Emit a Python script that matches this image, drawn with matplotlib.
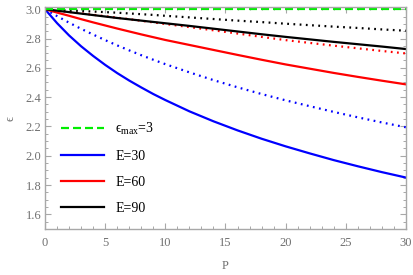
import matplotlib
matplotlib.use("Agg")
import matplotlib.pyplot as plt
from matplotlib.ticker import MultipleLocator

plt.rcParams['font.family'] = ['Liberation Serif', 'DejaVu Serif']
plt.rcParams['mathtext.fontset'] = 'custom'
plt.rcParams['mathtext.rm'] = 'Liberation Serif'
plt.rcParams['mathtext.it'] = 'Liberation Serif:italic'

# data
P = [0, 1, 2, 3, 4, 5, 6, 7, 8, 9, 10, 12, 14, 16, 18, 20, 22, 24, 26, 28, 30]
eps_max = 3.0
blue_solid = [3.000, 2.905, 2.821, 2.747, 2.681, 2.620, 2.564, 2.513, 2.466, 2.421,
              2.380, 2.303, 2.235, 2.173, 2.116, 2.064, 2.016, 1.970, 1.928, 1.888, 1.851]
blue_dotted = [3.000, 2.953, 2.908, 2.866, 2.827, 2.789, 2.753, 2.719, 2.686, 2.655,
               2.625, 2.569, 2.516, 2.467, 2.421, 2.378, 2.338, 2.299, 2.262, 2.227, 2.194]
red_solid = [3.000, 2.977, 2.955, 2.932, 2.910, 2.889, 2.868, 2.848, 2.828, 2.809,
             2.790, 2.756, 2.722, 2.688, 2.655, 2.623, 2.594, 2.565, 2.538, 2.512, 2.487]
red_dotted = [3.000, 2.991, 2.981, 2.972, 2.962, 2.952, 2.942, 2.932, 2.921, 2.910,
              2.899, 2.878, 2.856, 2.834, 2.811, 2.789, 2.770, 2.751, 2.733, 2.715, 2.698]
black_solid = [3.000, 2.990, 2.980, 2.970, 2.960, 2.950, 2.940, 2.931, 2.922, 2.913,
               2.904, 2.886, 2.867, 2.848, 2.829, 2.811, 2.794, 2.777, 2.761, 2.745, 2.728]
black_dotted = [3.000, 2.996, 2.992, 2.988, 2.984, 2.980, 2.976, 2.971, 2.966, 2.961,
                2.955, 2.944, 2.933, 2.922, 2.912, 2.901, 2.891, 2.881, 2.872, 2.862, 2.853]
labels = ['ϵ$_{\\mathrm{max}}$=3', 'E=30', 'E=60', 'E=90']

fig = plt.figure(figsize=(4.14, 2.75), dpi=100)
ax = fig.add_axes([45/414, 46/275, 361/414, 222/275])

lw = 1.6
dot = (0, (0.8, 2.0))
l_b, = ax.plot(P, blue_solid, color='#0000ff', lw=lw, label=labels[1])
ax.plot(P, blue_dotted, color='#0000ff', lw=lw, ls=dot)
l_r, = ax.plot(P, red_solid, color='#ff0000', lw=lw, label=labels[2])
ax.plot(P, red_dotted, color='#ff0000', lw=lw, ls=dot)
l_k, = ax.plot(P, black_solid, color='black', lw=lw, label=labels[3])
ax.plot(P, black_dotted, color='black', lw=lw, ls=dot)
l_g, = ax.plot(P, [eps_max] * len(P), color='#00ee00', lw=lw, ls=(0, (3.6, 1.8)),
               label=labels[0])

ax.set_xlim(0, 30)
ax.set_ylim(1.5, 3.015)
ax.xaxis.set_major_locator(MultipleLocator(5))
ax.xaxis.set_minor_locator(MultipleLocator(1))
ax.yaxis.set_major_locator(MultipleLocator(0.2))
ax.yaxis.set_minor_locator(MultipleLocator(0.05))
ax.yaxis.set_major_formatter(matplotlib.ticker.FormatStrFormatter('%.1f'))

frame = '#a8a8a8'
txt = '#707070'
for s in ax.spines.values():
    s.set_color(frame)
    s.set_linewidth(1.0)
ax.tick_params(which='both', direction='in', top=True, right=True, color=frame,
               labelcolor=txt, labelsize=9)
ax.tick_params(which='major', length=4, width=0.8)
ax.tick_params(which='minor', length=2.3, width=0.7)
ax.tick_params(axis='x', pad=6)
ax.tick_params(axis='y', pad=2.5)

ax.set_xlabel('P', color=txt, fontsize=9, labelpad=8)
ax.set_ylabel('ϵ', color=txt, fontsize=9, labelpad=7)

leg = ax.legend(handles=[l_g, l_b, l_r, l_k], loc='center left',
                bbox_to_anchor=(0.044, 0.275), frameon=False, fontsize=10,
                handlelength=3.1, handletextpad=0.8, labelspacing=0.92,
                borderpad=0, borderaxespad=0)

fig.savefig('out.png', dpi=100)
